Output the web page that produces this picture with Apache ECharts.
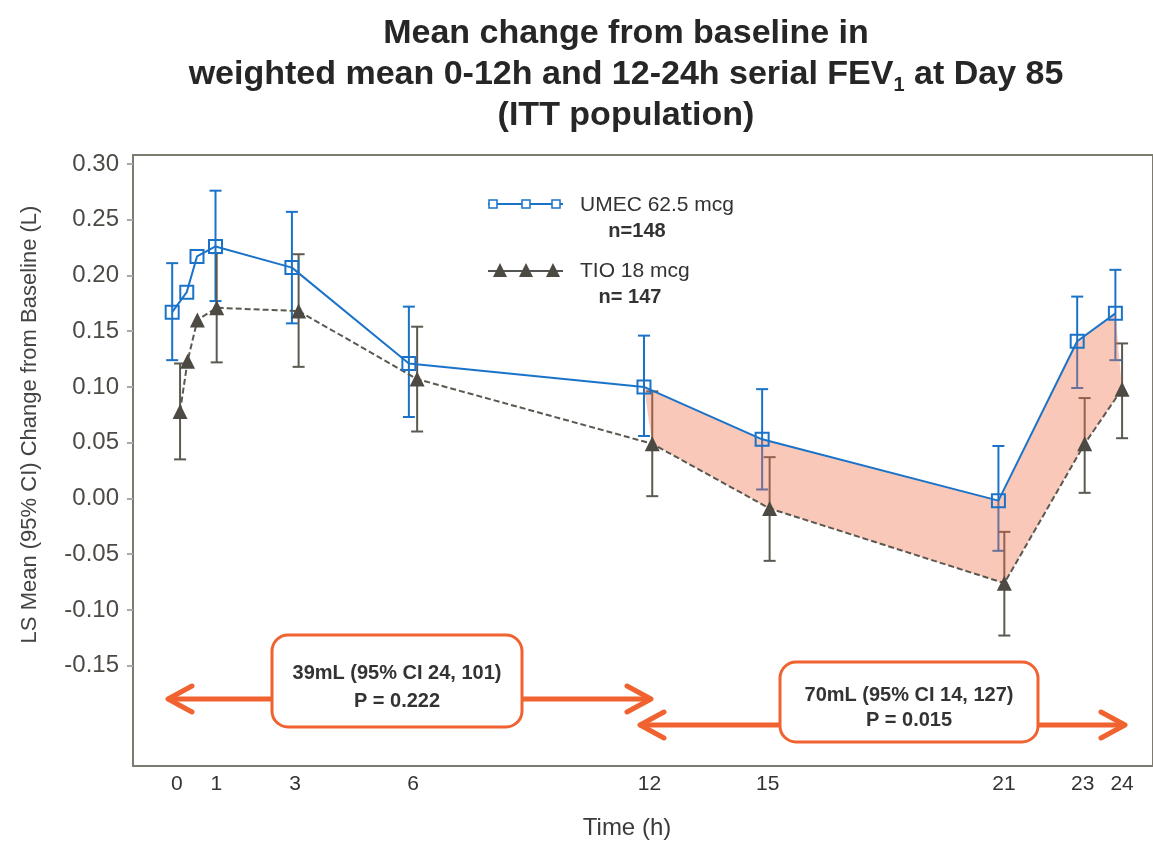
<!DOCTYPE html>
<html>
<head>
<meta charset="utf-8">
<title>Mean change from baseline FEV1</title>
<script src="https://cdn.jsdelivr.net/npm/echarts@6/dist/echarts.min.js"></script>
<style>
  html, body { margin: 0; padding: 0; background: #fff; }
  #chart { width: 1153px; height: 845px; }
</style>
</head>
<body>
<div id="chart"></div>
<script>
// time points (h), as plotted (each arm is dodged a little around the nominal time)
const umecHours = [-0.12, 0.25, 0.51, 0.98, 2.92, 5.89, 11.86, 14.86, 20.86, 22.86, 23.83]
const tioHours = [0.08, 0.27, 0.52, 1.01, 3.09, 6.10, 12.07, 15.05, 21.01, 23.05, 24.0]

// LS mean change from baseline (L) and 95% CI
const umecMean = [0.167, 0.185, 0.217, 0.226, 0.207, 0.121, 0.100, 0.053, -0.002, 0.141, 0.166]
const umecLow = [0.124, null, null, 0.177, 0.157, 0.073, 0.056, 0.008, -0.047, 0.099, 0.124]
const umecHigh = [0.211, null, null, 0.276, 0.257, 0.172, 0.146, 0.098, 0.047, 0.181, 0.205]

const tioMean = [0.078, 0.123, 0.160, 0.171, 0.168, 0.107, 0.049, -0.009, -0.076, 0.049, 0.098]
const tioLow = [0.035, null, null, 0.122, 0.118, 0.060, 0.002, -0.056, -0.123, 0.005, 0.054]
const tioHigh = [0.121, null, null, 0.220, 0.219, 0.154, 0.096, 0.037, -0.030, 0.090, 0.139]

// shaded 12-24h area uses these point indexes
const shadeIdx = [6, 7, 8, 9, 10]

const xTicks = [0, 1, 3, 6, 12, 15, 21, 23, 24]
const yTicks = [0.30, 0.25, 0.20, 0.15, 0.10, 0.05, 0.00, -0.05, -0.10, -0.15]

const FONT = '"Liberation Sans", Arial, sans-serif'
const BLUE = '#1a73c9'
const GREY = '#4c4a42'
const ORANGE = '#f0622f'

const pairs = (xs, ys) => xs.map((x, i) => [x, ys[i]])
const ciData = (xs, lo, hi) => xs.map((x, i) => [x, lo[i], hi[i]]).filter(d => d[1] !== null)

const errorBars = (color) => (params, api) => {
  const top = api.coord([api.value(0), api.value(2)])
  const bot = api.coord([api.value(0), api.value(1)])
  const w = 6
  const style = { stroke: color, lineWidth: 2 }
  return {
    type: 'group',
    children: [
      { type: 'line', shape: { x1: top[0], y1: top[1], x2: bot[0], y2: bot[1] }, style },
      { type: 'line', shape: { x1: top[0] - w, y1: top[1], x2: top[0] + w, y2: top[1] }, style },
      { type: 'line', shape: { x1: bot[0] - w, y1: bot[1], x2: bot[0] + w, y2: bot[1] }, style }
    ]
  }
}

const chart = echarts.init(document.getElementById('chart'))

// arrow helper for the annotation graphics
const arrow = (x1, x2, y, dir) => {
  const tip = dir < 0 ? x1 : x2
  const back = tip - dir * 24
  return [
    { type: 'line', shape: { x1, y1: y, x2, y2: y }, style: { stroke: ORANGE, lineWidth: 5 } },
    { type: 'polyline', shape: { points: [[back, y - 13], [tip, y], [back, y + 13]] },
      style: { stroke: ORANGE, lineWidth: 5, fill: null, lineCap: 'round', lineJoin: 'round' } }
  ]
}

const box = (x, y, w, h, lines, lh) => [
  { type: 'rect', shape: { x, y, width: w, height: h, r: 16 },
    style: { fill: '#fff', stroke: ORANGE, lineWidth: 3 } },
  { type: 'text', x: x + w / 2, y: y + h / 2 + 6,
    style: { text: lines, align: 'center', verticalAlign: 'middle', fill: '#333',
      font: 'bold 20px ' + FONT, lineHeight: lh } }
]

const legendGraphics = [
  { type: 'line', shape: { x1: 488, y1: 204, x2: 563, y2: 204 }, style: { stroke: BLUE, lineWidth: 2 } },
  ...[493, 526, 556].map(x => ({ type: 'rect', shape: { x: x - 4, y: 200, width: 8, height: 8 },
    style: { fill: '#fff', stroke: BLUE, lineWidth: 1.5 } })),
  { type: 'text', x: 580, y: 205, style: { text: 'UMEC 62.5 mcg', verticalAlign: 'middle', fill: '#333',
    font: '21px ' + FONT } },
  { type: 'text', x: 637, y: 231, style: { text: 'n=148', align: 'center', verticalAlign: 'middle', fill: '#333',
    font: 'bold 20px ' + FONT } },
  { type: 'line', shape: { x1: 488, y1: 271, x2: 563, y2: 271 }, style: { stroke: '#555', lineWidth: 2 } },
  ...[500, 526, 553].map(x => ({ type: 'polygon', shape: { points: [[x, 263], [x - 7, 277], [x + 7, 277]] },
    style: { fill: GREY } })),
  { type: 'text', x: 580, y: 271, style: { text: 'TIO 18 mcg', verticalAlign: 'middle', fill: '#333',
    font: '21px ' + FONT } },
  { type: 'text', x: 630, y: 297, style: { text: 'n= 147', align: 'center', verticalAlign: 'middle', fill: '#333',
    font: 'bold 20px ' + FONT } }
]

const option = {
  animation: false,
  title: {
    text: 'Mean change from baseline in\nweighted mean 0-12h and 12-24h serial FEV{sub|1} at Day 85\n(ITT population)',
    left: 621,
    top: 8,
    textAlign: 'center',
    textStyle: {
      fontFamily: FONT,
      fontSize: 34,
      fontWeight: 'bold',
      color: '#262626',
      lineHeight: 41,
      rich: {
        sub: { fontSize: 20, fontWeight: 'bold', color: '#262626', verticalAlign: 'bottom', lineHeight: 26 }
      }
    }
  },
  grid: {
    left: 133, top: 155, right: -2, bottom: 78,
    show: true, borderColor: '#7d7a70', borderWidth: 2, backgroundColor: 'transparent'
  },
  xAxis: {
    type: 'value',
    min: -1.115,
    max: 24.785,
    axisLine: { show: false, onZero: false },
    axisTick: { show: false },
    splitLine: { show: false },
    axisLabel: {
      customValues: xTicks,
      margin: 8,
      fontSize: 21,
      color: '#333',
      fontFamily: FONT
    },
    name: 'Time (h)',
    nameLocation: 'middle',
    nameGap: 50,
    nameTextStyle: { fontSize: 24, color: '#3a3a3a', padding: [0, 32, 0, 0], fontFamily: FONT }
  },
  yAxis: {
    type: 'value',
    min: -0.24,
    max: 0.308,
    axisLine: { show: false, onZero: false },
    splitLine: { show: false },
    axisTick: { show: true, customValues: yTicks, length: 6, lineStyle: { color: '#aaa', width: 2 } },
    axisLabel: {
      customValues: yTicks,
      margin: 14,
      fontSize: 24,
      color: '#4d4a45',
      fontFamily: FONT,
      formatter: v => v.toFixed(2)
    },
    name: 'LS Mean (95% CI) Change from Baseline (L)',
    nameLocation: 'middle',
    nameGap: 92,
    nameTextStyle: { fontSize: 22, color: '#444', padding: [0, 0, 0, 72], fontFamily: FONT }
  },
  graphic: [
    ...legendGraphics,
    ...arrow(168, 272, 699, -1),
    ...arrow(522, 651, 699, 1),
    ...box(272, 635, 250, 92, '39mL (95% CI 24, 101)\nP = 0.222', 28),
    ...arrow(640, 780, 725, -1),
    ...arrow(1038, 1125, 725, 1),
    ...box(780, 662, 258, 80, '70mL (95% CI 14, 127)\nP = 0.015', 25)
  ],
  series: [
    {
      name: 'UMEC CI',
      type: 'custom',
      z: 2,
      renderItem: errorBars(BLUE),
      encode: { x: 0, y: [1, 2] },
      data: ciData(umecHours, umecLow, umecHigh)
    },
    {
      name: 'TIO CI',
      type: 'custom',
      z: 3,
      renderItem: errorBars('#5b5950'),
      encode: { x: 0, y: [1, 2] },
      data: ciData(tioHours, tioLow, tioHigh)
    },
    {
      name: 'Difference 12-24h',
      type: 'custom',
      z: 4,
      renderItem: (params, api) => {
        const top = shadeIdx.map(i => api.coord([umecHours[i], umecMean[i]]))
        const bottom = shadeIdx.slice().reverse().map(i => api.coord([tioHours[i], tioMean[i]]))
        return {
          type: 'polygon',
          shape: { points: top.concat(bottom) },
          style: { fill: 'rgba(240, 110, 70, 0.38)' }
        }
      },
      data: [[umecHours[shadeIdx[0]], umecMean[shadeIdx[0]]]]
    },
    {
      name: 'TIO 18 mcg',
      type: 'line',
      z: 5,
      data: pairs(tioHours, tioMean),
      symbol: 'triangle',
      symbolSize: 15,
      itemStyle: { color: GREY },
      lineStyle: { color: '#5a5850', width: 2, type: [6, 3] }
    },
    {
      name: 'UMEC 62.5 mcg',
      type: 'line',
      z: 6,
      data: pairs(umecHours, umecMean),
      symbol: 'rect',
      symbolSize: 13,
      itemStyle: { color: 'rgba(255,255,255,0)', borderColor: BLUE, borderWidth: 2 },
      lineStyle: { color: BLUE, width: 2 }
    }
  ]
}

chart.setOption(option)
</script>
</body>
</html>
